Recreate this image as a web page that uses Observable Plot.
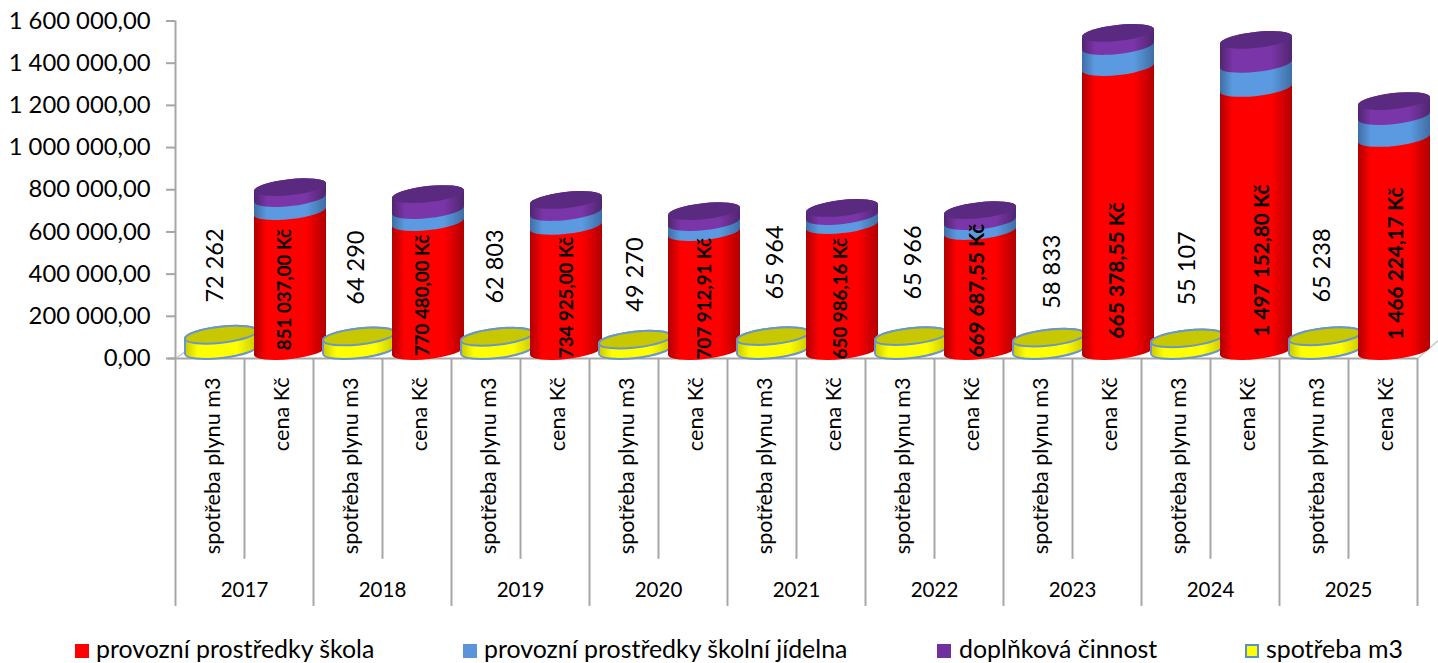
<!DOCTYPE html>
<html lang="cs">
<head>
<meta charset="utf-8">
<script src="https://cdn.jsdelivr.net/npm/d3@7"></script>
<script src="https://cdn.jsdelivr.net/npm/@observablehq/plot@0.6"></script>
<style>
html,body{margin:0;padding:0;background:#fff;overflow:hidden}
#legend{position:relative;height:28px;font-family:Lato,sans-serif;font-size:24.9px;color:#000;line-height:26px}
#legend i{position:absolute;top:9px;width:14px;height:14px;box-sizing:border-box}
#legend span{position:absolute;top:0;height:28px;white-space:nowrap}
</style>
</head>
<body>
<div id="chart"></div>
<div id="legend"></div>
<script>
const years = [2017, 2018, 2019, 2020, 2021, 2022, 2023, 2024, 2025];
const categoryNames = ["spotřeba plynu m3", "cena Kč"];
const gasValues = [72262, 64290, 62803, 49270, 65964, 65966, 58833, 55107, 65238];
const schoolValues = [663000, 611000, 593000, 564000, 597000, 569000, 1346000, 1247000, 1010000];
const canteenValues = [62000, 57000, 66000, 47000, 43000, 47000, 100000, 114000, 104000];
const extraValues = [52000, 76000, 57000, 52000, 38000, 52000, 62000, 114000, 71000];
const priceLabels = ["851 037,00 Kč", "770 480,00 Kč", "734 925,00 Kč", "707 912,91 Kč", "650 986,16 Kč", "669 687,55 Kč", "665 378,55 Kč", "1 497 152,80 Kč", "1 466 224,17 Kč"];
const gasLabels = ["72 262", "64 290", "62 803", "49 270", "65 964", "65 966", "58 833", "55 107", "65 238"];
const gasLabelSlot = [0.58, 2.62, 4.64, 6.67, 8.70, 10.70, 12.71, 14.67, 16.62];
const gasLabelLevel = [441000, 431000, 436000, 398000, 455000, 455000, 412000, 427000, 441000];
const priceLabelSlot = [1.58, 3.59, 5.68, 7.67, 9.64, 11.62, 13.65, 15.75, 17.70];
const priceLabelLevel = [327000, 299000, 289000, 284000, 284000, 322000, 417000, 464000, 450000];
const priceLabelSize = [18.7, 18.7, 18.7, 18.7, 18.7, 20.6, 21, 20.8, 20.8];
const yTicks = [0, 200000, 400000, 600000, 800000, 1000000, 1200000, 1400000, 1600000];
const legendItems = [
  {name: "provozní prostředky škola", swatch: 75, text: 96, color: "#ff0000"},
  {name: "provozní prostředky školní jídelna", swatch: 463, text: 484, color: "#5b94d8"},
  {name: "doplňková činnost", swatch: 937, text: 959, color: "#7030a0"},
  {name: "spotřeba m3", swatch: 1245, text: 1266, color: "#ffff00", border: "#5b8fc8"}
];

const SVGNS = "http://www.w3.org/2000/svg";
const fmt = d3.formatLocale({decimal: ",", thousands: " ", grouping: [3]}).format(",.2f");

// depth of the 3-D look, in pixels
const SHIFT_X = 11.5, SHIFT_Y = -7, DISC_SHIFT_Y = -8, RX = 36, RY = 8, TILT = 4;

function ellipseArc(sweep, x, y) {
  const a = Math.hypot(RX, TILT), rot = -Math.atan2(TILT, RX) * 180 / Math.PI;
  return `A${a} ${RY} ${rot} 0 ${sweep} ${x} ${y}`;
}
// Turns each library-drawn rect into a tilted cylinder segment
function cylinder({cap, stroke, shiftY = SHIFT_Y} = {}) {
  return (index, scales, values, dims, ctx, next) => {
    const g = next(index, scales, values, dims, ctx);
    for (const r of [...g.querySelectorAll("rect")]) {
      const x = +r.getAttribute("x"), w = +r.getAttribute("width");
      const y = +r.getAttribute("y"), h = +r.getAttribute("height");
      const cx = x + w / 2 + SHIFT_X, yt = y + shiftY, yb = y + h + shiftY;
      const l = cx - RX, rr = cx + RX;
      const fill = r.getAttribute("fill") || g.getAttribute("fill");
      const body = document.createElementNS(SVGNS, "path");
      body.setAttribute("d", `M${l} ${yt + TILT}L${l} ${yb + TILT}${ellipseArc(0, rr, yb - TILT)}L${rr} ${yt - TILT}${ellipseArc(0, l, yt + TILT)}Z`);
      body.setAttribute("fill", fill);
      if (stroke) { body.setAttribute("stroke", stroke); body.setAttribute("stroke-width", 2); }
      r.replaceWith(body);
      if (cap) {
        const top = document.createElementNS(SVGNS, "path");
        top.setAttribute("d", `M${l} ${yt + TILT}${ellipseArc(0, rr, yt - TILT)}${ellipseArc(0, l, yt + TILT)}Z`);
        top.setAttribute("fill", cap);
        if (stroke) { top.setAttribute("stroke", stroke); top.setAttribute("stroke-width", 2); }
        body.after(top);
      }
    }
    return g;
  };
}

function gradient(id, edge, mid) {
  return `<linearGradient id="${id}" x1="0" x2="1" y1="0" y2="0">
    <stop offset="0" stop-color="${edge}"/><stop offset="0.18" stop-color="${mid}"/>
    <stop offset="0.72" stop-color="${mid}"/><stop offset="1" stop-color="${edge}"/></linearGradient>`;
}
const defsMark = () => {
  const d = document.createElementNS(SVGNS, "defs");
  d.innerHTML = gradient("gRed", "#b00000", "#ff0000") + gradient("gBlue", "#3f6ea6", "#5b9ae0")
    + gradient("gPurple", "#50266f", "#7a35a8") + gradient("gYellow", "#c8c800", "#ffff00");
  return d;
};

const gray = "#a6a6a6";
const table = years.map((year, i) => ({
  year, i, gas: gasValues[i],
  s0: 0, s1: schoolValues[i],
  s2: schoolValues[i] + canteenValues[i],
  s3: schoolValues[i] + canteenValues[i] + extraValues[i]
}));
const categories = years.flatMap((year, i) => categoryNames.map((name, k) => ({name, slot: 2 * i + k + 0.5})));
const yearBottom = -1175000, categoryBottom = -952000;

const marks = [
  defsMark,
  // floor
  Plot.ruleY([0], {x1: -0.1, x2: 18, stroke: gray, strokeWidth: 2}),
  Plot.link([{x1: 0, y1: 0, x2: 0.14, y2: 33000}, {x1: 18, y1: 0, x2: 18.3, y2: 85000}],
    {x1: "x1", y1: "y1", x2: "x2", y2: "y2", stroke: "#c8c8c8", strokeWidth: 1.5}),
  // separators under the axis
  Plot.ruleX(d3.range(0, 19, 2), {y1: 0, y2: yearBottom, stroke: gray, strokeWidth: 2}),
  Plot.ruleX(d3.range(1, 18, 2), {y1: 0, y2: categoryBottom, stroke: gray, strokeWidth: 2}),
  Plot.ruleX([0], {y1: 0, y2: 1600000, stroke: gray, strokeWidth: 2}),
  Plot.axisY({ticks: yTicks, tickFormat: fmt, tickSize: 9, tickPadding: 16, fontSize: 23.8, stroke: gray, strokeWidth: 2, label: null, fill: "#000"})
];
for (const d of table) {
  const a = 2 * d.i, b = a + 1;
  marks.push(
    Plot.rect([d], {x1: a, x2: a + 1, y1: 0, y2: "gas", fill: "url(#gYellow)", render: cylinder({cap: "#c8c800", stroke: "#6a96c8", shiftY: DISC_SHIFT_Y})}),
    Plot.rect([d], {x1: b, x2: b + 1, y1: "s0", y2: "s1", fill: "url(#gRed)", render: cylinder()}),
    Plot.rect([d], {x1: b, x2: b + 1, y1: "s1", y2: "s2", fill: "url(#gBlue)", render: cylinder()}),
    Plot.rect([d], {x1: b, x2: b + 1, y1: "s2", y2: "s3", fill: "url(#gPurple)", render: cylinder({cap: "#5a2a80"})})
  );
}
marks.push(
  Plot.text(categories, {x: "slot", y: 0, text: "name", rotate: -90, textAnchor: "end", dy: 19, dx: 3, fontSize: 21.6, fill: "#000"}),
  Plot.text(years, {x: (d, i) => 2 * i + 1, y: 0, text: (d) => String(d), dy: 232, fontSize: 20.5, fill: "#000"}),
  Plot.text(gasLabels, {x: (d, i) => gasLabelSlot[i], y: (d, i) => gasLabelLevel[i], text: (d) => d, rotate: -90, fontSize: 23.5, fill: "#000"}),
  Plot.text(priceLabels, {x: (d, i) => priceLabelSlot[i], y: (d, i) => priceLabelLevel[i], text: (d) => d, rotate: -90, fontSize: (d, i) => priceLabelSize[i], fontWeight: 700, fill: "#000"})
);

const chart = Plot.plot({
  width: 1438, height: 635,
  marginLeft: 175, marginRight: 21, marginTop: 20.5, marginBottom: 277,
  x: {domain: [0, 18], axis: null},
  y: {domain: [0, 1600000], axis: null},
  style: {background: "#fff", color: "#000", fontFamily: "Lato, sans-serif", overflow: "visible"},
  marks
});
document.getElementById("chart").appendChild(chart);

const legend = document.getElementById("legend");
for (const it of legendItems) {
  const sw = document.createElement("i");
  sw.style.left = it.swatch + "px";
  sw.style.background = it.color;
  if (it.border) sw.style.border = "2px solid " + it.border;
  const t = document.createElement("span");
  t.style.left = it.text + "px";
  t.textContent = it.name;
  legend.append(sw, t);
}
</script>
</body>
</html>
